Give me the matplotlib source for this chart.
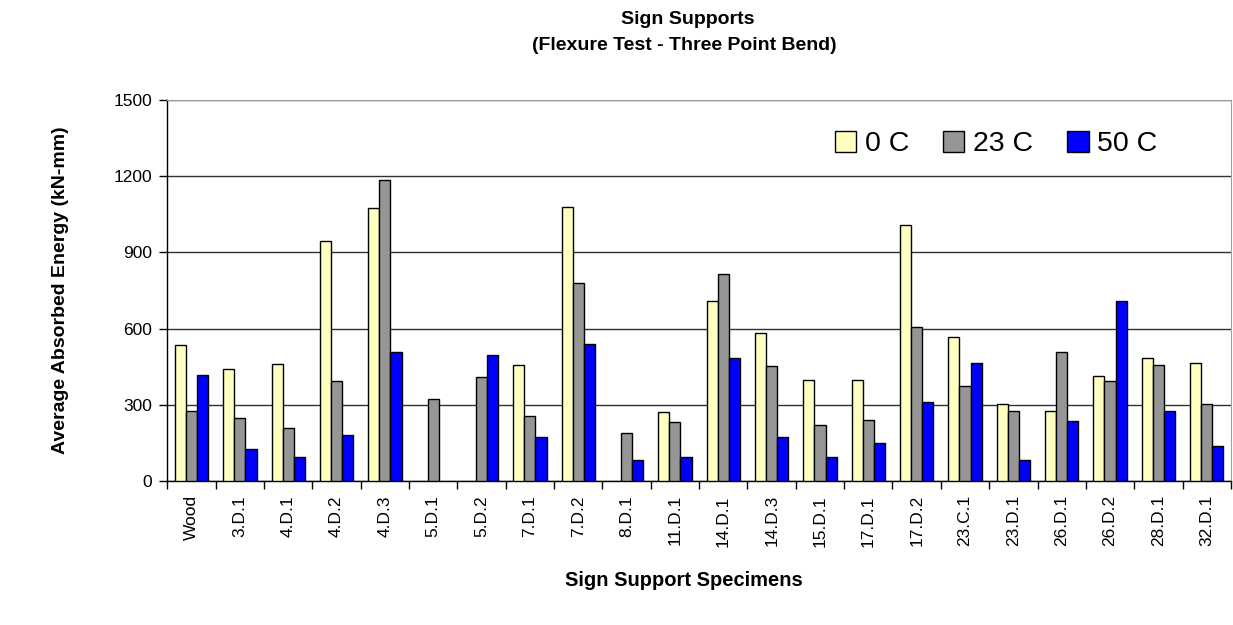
import numpy as np
import matplotlib.pyplot as plt

plt.rcParams['font.family'] = ['Liberation Sans', 'DejaVu Sans']

# Mittelwerte der absorbierten Energie je Probe und Temperatur (kN-mm), nan = kein Wert
specimens = ['Wood', '3.D.1', '4.D.1', '4.D.2', '4.D.3', '5.D.1', '5.D.2', '7.D.1',
             '7.D.2', '8.D.1', '11.D.1', '14.D.1', '14.D.3', '15.D.1', '17.D.1',
             '17.D.2', '23.C.1', '23.D.1', '26.D.1', '26.D.2', '28.D.1', '32.D.1']
energy_0c = [536, 443, 461, 946, 1074, np.nan, np.nan, 457, 1077, np.nan, 274, 707,
             583, 400, 400, 1006, 566, 304, 278, 414, 485, 466]
energy_23c = [278, 250, 208, 396, 1183, 325, 409, 255, 781, 191, 231, 816, 452, 221,
              242, 605, 375, 278, 508, 396, 457, 304]
energy_50c = [417, 126, 94, 182, 508, np.nan, 497, 173, 540, 85, 94, 485, 173, 94, 151,
              313, 466, 83, 238, 707, 278, 138]

series = [
    (energy_0c, '#ffffc0', '0 C'),
    (energy_23c, '#969696', '23 C'),
    (energy_50c, '#0000ff', '50 C'),
]

fig = plt.figure(figsize=(12.33, 6.25), dpi=100)
ax = fig.add_axes([0.1357, 0.2300, 0.8626, 0.6104])

x = np.arange(len(specimens))
width = 0.23
for i, (vals, color, label) in enumerate(series):
    ax.bar(x + (i - 1) * width, vals, width, color=color, edgecolor='black',
           linewidth=1.0, label=label, zorder=3)

ax.set_xlim(-0.5, len(specimens) - 0.5)
ax.set_ylim(0, 1500)
ax.set_yticks([0, 300, 600, 900, 1200, 1500])
ax.yaxis.grid(True, color='#303030', linewidth=1.0, zorder=0)

# Beschriftungen mittig, Teilstriche zwischen den Gruppen
ax.set_xticks(x)
ax.set_xticklabels(specimens, rotation=90, fontsize=12.5)
ax.set_xticks(np.arange(len(specimens) + 1) - 0.5, minor=True)
ax.tick_params(axis='x', which='major', length=0, pad=10)
ax.tick_params(axis='x', which='minor', length=6, width=1, direction='out')
ax.tick_params(axis='y', labelsize=12.5, length=6, width=1, direction='out', pad=5)

for side in ['top', 'right']:
    ax.spines[side].set_color('#a0a0a0')
for side in ['left', 'bottom']:
    ax.spines[side].set_linewidth(1.0)

fig.text(0.558, 0.968, 'Sign Supports', ha='center', va='center',
         fontsize=14, fontweight='bold')
fig.text(0.555, 0.928, '(Flexure Test - Three Point Bend)', ha='center', va='center',
         fontsize=14, fontweight='bold')
fig.text(0.049, 0.535, 'Average Absorbed Energy (kN-mm)', ha='center', va='center',
         rotation=90, fontsize=14, fontweight='bold')
fig.text(0.555, 0.072, 'Sign Support Specimens', ha='center', va='center',
         fontsize=14.5, fontweight='bold')

ax.legend(loc='upper right', bbox_to_anchor=(0.955, 0.985), ncol=3, frameon=False,
          fontsize=20.5, handlelength=0.75, handleheight=0.75, handletextpad=0.3,
          columnspacing=1.2)

plt.savefig('out.png', dpi=100)
plt.close()
